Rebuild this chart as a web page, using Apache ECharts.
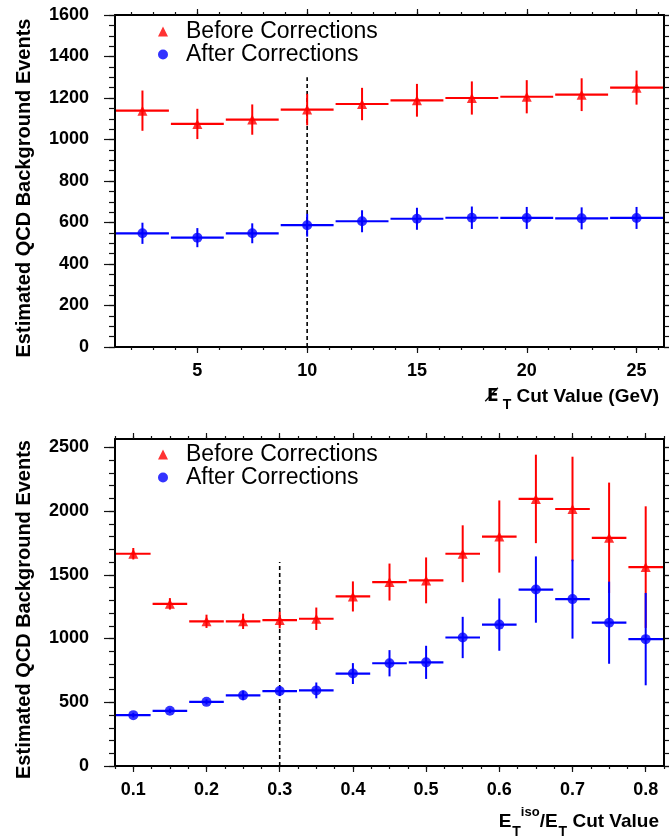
<!DOCTYPE html>
<html><head><meta charset="utf-8">
<script src="https://cdn.jsdelivr.net/npm/echarts@6/dist/echarts.min.js"></script>
<style>html,body{margin:0;padding:0;background:#fff}#c{width:669px;height:839px}</style>
</head><body><div id="c"></div><script>
// ---------- data ----------
const metCuts       = [2.5, 5, 7.5, 10, 12.5, 15, 17.5, 20, 22.5, 25];
const metBefore     = [1139, 1075, 1096, 1144, 1171, 1189, 1200, 1206, 1216, 1250];
const metBeforeErr  = [97, 73, 73, 76, 78, 79, 80, 80, 79, 82];
const metAfter      = [548, 527, 548, 587, 606, 618, 623, 622, 620, 622];
const metAfterErr   = [51, 46, 48, 55, 53, 53, 54, 53, 53, 53];
const metHalfBin    = 1.25;
const metCutLine    = [[10, 0], [10, 1300]];

const isoCuts       = [0.1, 0.15, 0.2, 0.25, 0.3, 0.35, 0.4, 0.45, 0.5, 0.55, 0.6, 0.65, 0.7, 0.75, 0.8];
const isoBefore     = [1665, 1272, 1135, 1135, 1145, 1155, 1330, 1443, 1456, 1665, 1800, 2095, 2016, 1790, 1560];
const isoBeforeErr  = [45, 45, 52, 60, 65, 88, 118, 145, 180, 223, 283, 347, 410, 433, 477];
const isoAfter      = [399, 433, 503, 554, 588, 593, 725, 806, 813, 1008, 1109, 1384, 1309, 1124, 995];
const isoAfterErr   = [18, 18, 20, 38, 40, 62, 82, 103, 130, 162, 205, 260, 310, 322, 362];
const isoHalfBin    = 0.025;
const isoCutLine    = [[0.3, 0], [0.3, 1600]];

// axis ranges and tick labels
const metRange   = [1.25, 26.25];
const metTicks   = [5, 10, 15, 20, 25];
const topYRange  = [0, 1600];
const topYTicks  = [0, 200, 400, 600, 800, 1000, 1200, 1400, 1600];
const isoRange   = [0.075, 0.825];
const isoTicks   = [0.1, 0.2, 0.3, 0.4, 0.5, 0.6, 0.7, 0.8];
const botYRange  = [0, 2565];
const botYTicks  = [0, 500, 1000, 1500, 2000, 2500];

const seriesNames = ['Before Corrections', 'After Corrections'];

// ---------- helpers ----------
const FONT = "'Liberation Sans', Arial, Helvetica, sans-serif";
const RED = '#ff0000', BLUE = '#0000ff';
function steps(a, b, step) {
  const out = []; const n = Math.round((b - a) / step);
  for (let i = 0; i <= n; i++) out.push(+(a + i * step).toFixed(6));
  return out;
}
const metMinor  = steps(2, 26, 1);
const topYMinor = steps(0, 1600, 50);
const isoMinor  = steps(0.075, 0.825, 0.025);
const botYMinor = steps(0, 2500, 100);

function tickAxis(grid, range, pos, values, len, extra) {
  return Object.assign({
    type: 'value', gridIndex: grid, min: range[0], max: range[1], position: pos,
    splitLine: { show: false },
    axisLine: { show: false, onZero: false },
    axisTick: { show: true, inside: false, length: len, customValues: values,
                lineStyle: { color: '#111', width: 1.2 } },
    axisLabel: { show: false }
  }, extra || {});
}
function frameLine() { return { show: true, onZero: false, lineStyle: { color: '#000', width: 2 } }; }
function labelStyle(values, margin) {
  return { show: true, customValues: values, margin: margin, fontFamily: FONT,
           fontSize: 18, fontWeight: 'bold', color: '#000',
           formatter: function (v) { return String(v); } };
}

function makeXAxes(grid, range, major, minor, name, rich, pad) {
  return [
    tickAxis(grid, range, 'bottom', major, 6, {
      axisLine: frameLine(),
      axisLabel: labelStyle(major, 15),
      name: name, nameLocation: 'end', nameGap: -5,
      nameTextStyle: { fontFamily: FONT, fontSize: 19, fontWeight: 'bold', color: '#000',
                       align: 'right', verticalAlign: 'top', padding: [pad, 0, 0, 0], rich: rich }
    }),
    tickAxis(grid, range, 'bottom', minor, 3),
    tickAxis(grid, range, 'top', major, 6, { axisLine: frameLine() }),
    tickAxis(grid, range, 'top', minor, 3)
  ];
}
function makeYAxes(grid, range, major, minor) {
  return [
    tickAxis(grid, range, 'left', major, 11, {
      axisLine: frameLine(),
      axisLabel: labelStyle(major, 26),
      name: 'Estimated QCD Background Events', nameLocation: 'middle', nameGap: 81,
      nameTextStyle: { fontFamily: FONT, fontSize: 20, fontWeight: 'bold', color: '#000',
                       padding: [0, 14, 0, 0] }
    }),
    tickAxis(grid, range, 'left', minor, 6),
    tickAxis(grid, range, 'right', major, 11, { axisLine: frameLine() }),
    tickAxis(grid, range, 'right', minor, 6)
  ];
}

function errRender(color, hw) {
  return function (params, api) {
    const x = api.value(0), y = api.value(1), e = api.value(2);
    const l = api.coord([x - hw, y]), r = api.coord([x + hw, y]);
    const t = api.coord([x, y + e]), b = api.coord([x, y - e]);
    return { type: 'group', children: [
      { type: 'line', shape: { x1: l[0] + 1, y1: l[1], x2: r[0] - 1, y2: r[1] },
        style: { stroke: color, lineWidth: 2.2 } },
      { type: 'line', shape: { x1: t[0], y1: t[1], x2: b[0], y2: b[1] },
        style: { stroke: color, lineWidth: 2 } }
    ]};
  };
}
function gridSeries(g, cuts, before, beforeErr, after, afterErr, hw, cutLine) {
  const xi = g * 4, yi = g * 4;
  return [
    { type: 'line', xAxisIndex: xi, yAxisIndex: yi, data: cutLine, symbol: 'none', silent: true,
      lineStyle: { color: '#000', width: 1.6, type: [4, 3] }, z: 1 },
    { name: seriesNames[0], type: 'scatter', xAxisIndex: xi, yAxisIndex: yi, symbol: 'triangle',
      symbolSize: 10, itemStyle: { color: RED }, z: 5,
      data: cuts.map((x, i) => [x, before[i]]) },
    { name: seriesNames[1], type: 'scatter', xAxisIndex: xi, yAxisIndex: yi, symbol: 'circle',
      symbolSize: 10, itemStyle: { color: BLUE }, z: 5,
      data: cuts.map((x, i) => [x, after[i]]) },
    { name: seriesNames[0], type: 'custom', xAxisIndex: xi, yAxisIndex: yi, itemStyle: { color: RED },
      renderItem: errRender(RED, hw), encode: { x: 0, y: 1 }, z: 3,
      data: cuts.map((x, i) => [x, before[i], beforeErr[i]]) },
    { name: seriesNames[1], type: 'custom', xAxisIndex: xi, yAxisIndex: yi, itemStyle: { color: BLUE },
      renderItem: errRender(BLUE, hw), encode: { x: 0, y: 1 }, z: 3,
      data: cuts.map((x, i) => [x, after[i], afterErr[i]]) }
  ];
}
function makeLegend(top) {
  return { orient: 'vertical', left: 158, top: top, padding: 0, itemGap: 0,
           itemWidth: 10, itemHeight: 10, selectedMode: false,
           textStyle: { fontFamily: FONT, fontSize: 23, color: '#000', lineHeight: 22,
                        padding: [0, 0, 0, 13] },
           data: [{ name: seriesNames[0], icon: 'triangle' }, { name: seriesNames[1], icon: 'circle' }] };
}

const B = { fontFamily: FONT, fontWeight: 'bold', color: '#000', verticalAlign: 'top' };
const richTop = {
  e: Object.assign({}, B, { fontFamily: "'DejaVu Sans'", fontSize: 17, padding: [1, 0, 0, 0] }),
  s: Object.assign({}, B, { fontSize: 14, padding: [11, 0, 0, 4] }),
  m: Object.assign({}, B, { fontSize: 19 })
};
const richBot = {
  m: Object.assign({}, B, { fontSize: 19, padding: [6, 0, 0, 0] }),
  z: Object.assign({}, B, { fontSize: 14, padding: [19, 0, 0, 1] }),
  p: Object.assign({}, B, { fontSize: 13, padding: [0, 0, 0, 0] }),
  s: Object.assign({}, B, { fontSize: 14, padding: [19, 0, 0, 1] })
};

const chart = echarts.init(document.getElementById('c'), null, { renderer: 'canvas' });
chart.setOption({
  animation: false,
  backgroundColor: '#fff',
  textStyle: { fontFamily: FONT },
  grid: [
    { left: 115, right: 5, top: 15, height: 332 },
    { left: 115, right: 5, top: 439, height: 331 }
  ],
  legend: [makeLegend(20), makeLegend(443)],
  xAxis: [].concat(
    makeXAxes(0, metRange, metTicks, metMinor, '{e|E\u0338}{s|T}{m| Cut Value (GeV)}', richTop, 40),
    makeXAxes(1, isoRange, isoTicks, isoMinor, '{m|E}{z|T}{p|iso}{m|/E}{s|T}{m| Cut Value}', richBot, 40)
  ),
  yAxis: [].concat(
    makeYAxes(0, topYRange, topYTicks, topYMinor),
    makeYAxes(1, botYRange, botYTicks, botYMinor)
  ),
  series: [].concat(
    gridSeries(0, metCuts, metBefore, metBeforeErr, metAfter, metAfterErr, metHalfBin, metCutLine),
    gridSeries(1, isoCuts, isoBefore, isoBeforeErr, isoAfter, isoAfterErr, isoHalfBin, isoCutLine)
  )
});
</script></body></html>
